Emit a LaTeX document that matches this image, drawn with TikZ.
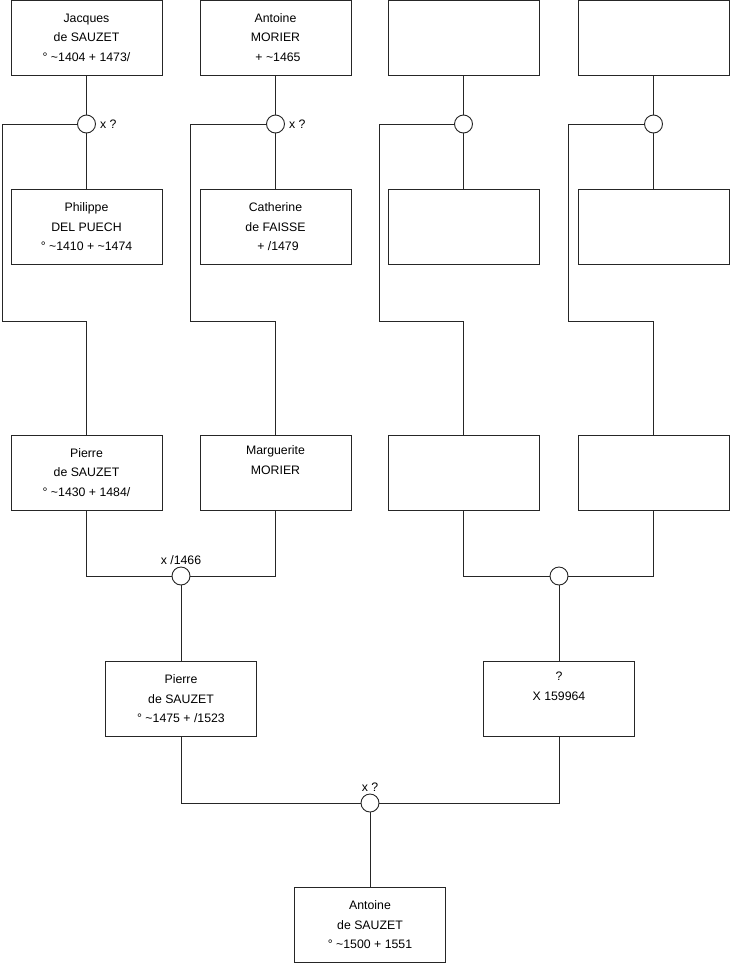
\documentclass[tikz,border=0pt]{standalone}
\usepackage{fontspec}
\setmainfont{Liberation Sans}
\begin{document}
\begin{tikzpicture}[x=1pt,y=-1pt,
  box/.style={draw=black!85, line width=0.9pt, minimum width=151pt, minimum height=75pt, inner sep=0pt, align=center, font=\fontsize{12.3}{19.5}\selectfont},
  ring/.style={draw=black!85, line width=0.9pt, circle, minimum size=18pt, inner sep=0pt, fill=white},
  link/.style={draw=black!85, line width=0.9pt},
  lbl/.style={inner sep=0pt, font=\fontsize{12.3}{14}\selectfont}]
\useasboundingbox (0,0) rectangle (740,975);
% row 1
\node[box] (jds) at (86.5,37.5) {Jacques\\de SAUZET\\° \textasciitilde1404 + 1473/};
\node[box] (am) at (275.5,37.5) {Antoine\\MORIER\\\hspace{5pt}+ \textasciitilde1465};
\node[box] (e1) at (463.5,37.5) {};
\node[box] (e2) at (653.5,37.5) {};
% rings row 1
\node[ring] (r1) at (86.5,124) {};
\node[ring] (r2) at (275.5,124) {};
\node[ring] (r3) at (463.5,124) {};
\node[ring] (r4) at (653.5,124) {};
\node[lbl, anchor=west] (l1) at (r1.east) [xshift=4pt] {x ?};
\node[lbl, anchor=west] (l2) at (r2.east) [xshift=4pt] {x ?};
% row 2
\node[box] (pdp) at (86.5,227) {Philippe\\DEL PUECH\\° \textasciitilde1410 + \textasciitilde1474};
\node[box] (cdf) at (275.5,227) {Catherine\\de FAISSE\\\hspace{5pt}+ /1479};
\node[box] (e3) at (463.5,227) {};
\node[box] (e4) at (653.5,227) {};
% row 3
\node[box] (pds) at (86.5,472.5) {Pierre\\de SAUZET\\° \textasciitilde1430 + 1484/};
\node[box] (mm) at (275.5,472.5) {Marguerite\\MORIER\\\strut};
\node[box] (e5) at (463.5,472.5) {};
\node[box] (e6) at (653.5,472.5) {};
% rings row 3
\node[ring] (r5) at (181,576) {};
\node[ring] (r6) at (559,576) {};
\node[lbl, anchor=south] (l5) at (181,565) {x /1466};
% row 4
\node[box] (pds2) at (181,699) {Pierre\\de SAUZET\\° \textasciitilde1475 + /1523};
\node[box] (unk) at (559,699) {?\\X 159964\\\strut};
% ring row 4
\node[ring] (r7) at (370,803) {};
\node[lbl, anchor=south] (l7) at (370,792) {x ?};
% row 5
\node[box] (ads) at (370,925) {Antoine\\de SAUZET\\° \textasciitilde1500 + 1551};
% coordinates
\coordinate (c1) at (2,124);   \coordinate (d1) at (86.5,321);
\coordinate (c2) at (190,124); \coordinate (d2) at (275.5,321);
\coordinate (c3) at (379,124); \coordinate (d3) at (463.5,321);
\coordinate (c4) at (568,124); \coordinate (d4) at (653.5,321);
% links
\draw[link] (jds) -- (r1); \draw[link] (r1) -- (pdp);
\draw[link] (am) -- (r2);  \draw[link] (r2) -- (cdf);
\draw[link] (e1) -- (r3);  \draw[link] (r3) -- (e3);
\draw[link] (e2) -- (r4);  \draw[link] (r4) -- (e4);
\draw[link] (r1.west) -- (c1) |- (d1) -- (pds.north);
\draw[link] (r2.west) -- (c2) |- (d2) -- (mm.north);
\draw[link] (r3.west) -- (c3) |- (d3) -- (e5.north);
\draw[link] (r4.west) -- (c4) |- (d4) -- (e6.north);
\draw[link] (pds.south) |- (r5.west);
\draw[link] (mm.south) |- (r5.east);
\draw[link] (e5.south) |- (r6.west);
\draw[link] (e6.south) |- (r6.east);
\draw[link] (r5) -- (pds2);
\draw[link] (r6) -- (unk);
\draw[link] (pds2.south) |- (r7.west);
\draw[link] (unk.south) |- (r7.east);
\draw[link] (r7) -- (ads);
\end{tikzpicture}
\end{document}
